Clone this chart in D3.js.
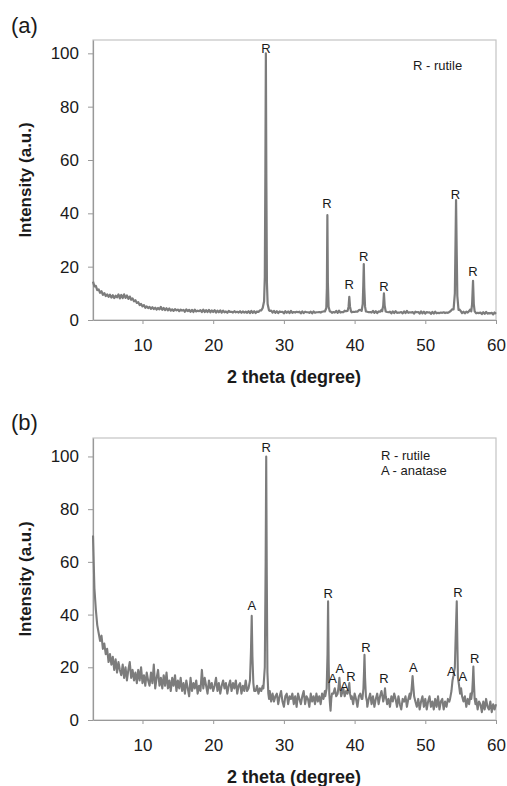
<!DOCTYPE html>
<html>
<head>
<meta charset="utf-8">
<script src="https://cdn.jsdelivr.net/npm/d3@7"></script>
<style>
body { margin: 0; background: #fff; }
text { font-family: "Liberation Sans", Arial, sans-serif; fill: #1a1a1a; }
</style>
</head>
<body>
<svg id="chart" width="507" height="786"></svg>
<script>
// ---- data ----
var xTicks = [10, 20, 30, 40, 50, 60];
var yTicks = [0, 20, 40, 60, 80, 100];
var xTitle = '2 theta (degree)';
var yTitle = 'Intensity (a.u.)';

// background traces, sampled from 2theta = 3.0 every 0.2 degree
var scanStart = 3, scanStep = 0.2;

var bgA = [
  14.4, 12.6, 12.8, 11.2, 11.5, 10.2, 10.8, 9.4, 10.1, 9.0,
  9.6, 8.7, 9.5, 8.4, 9.3, 8.2, 9.1, 8.5, 9.6, 8.1,
  9.4, 8.2, 9.6, 8.3, 9.2, 7.9, 8.8, 7.6, 8.1, 7.0,
  7.4, 6.4, 6.7, 5.6, 6.0, 5.1, 5.6, 4.6, 5.1, 4.5,
  4.9, 4.2, 4.8, 4.1, 4.6, 3.9, 4.5, 4.0, 4.9, 3.8,
  4.5, 3.7, 4.4, 3.6, 4.3, 3.5, 4.0, 3.4, 4.1, 3.6,
  3.9, 3.3, 3.9, 3.5, 3.8, 3.1, 4.0, 3.3, 3.8, 3.1,
  3.8, 3.0, 3.9, 3.2, 3.5, 3.3, 3.7, 3.0, 3.9, 3.0,
  3.7, 3.0, 3.8, 2.9, 3.6, 3.0, 3.7, 2.8, 3.5, 2.9,
  3.6, 2.8, 3.5, 2.9, 3.2, 2.7, 3.4, 3.0, 3.1, 2.8,
  3.3, 2.9, 3.1, 2.8, 3.3, 2.7, 3.2, 2.8, 3.1, 2.7,
  3.3, 2.6, 3.4, 2.7, 3.3, 2.6, 3.2, 3.0, 3.6, 3.6,
  4.8, 6.0, 9.0, 6.5, 4.4, 3.4, 3.5, 2.8, 3.4, 2.7,
  3.3, 2.6, 3.2, 3.0, 3.1, 2.5, 3.3, 2.7, 3.2, 2.6,
  3.4, 2.7, 3.0, 2.8, 3.1, 2.9, 3.1, 2.5, 3.2, 2.6,
  3.1, 2.9, 2.9, 2.7, 3.1, 2.5, 3.2, 2.7, 2.9, 2.9,
  3.0, 2.8, 3.1, 3.2, 3.5, 4.0, 5.0, 3.6, 3.2, 2.7,
  3.0, 2.8, 3.4, 2.7, 3.5, 2.8, 3.0, 2.9, 3.5, 3.3,
  4.0, 4.5, 3.8, 2.9, 3.1, 3.0, 3.2, 3.1, 3.7, 3.8,
  5.0, 6.0, 4.0, 3.0, 3.1, 2.9, 3.0, 2.8, 3.4, 2.7,
  3.3, 2.6, 3.2, 3.1, 3.8, 4.2, 3.5, 2.8, 3.0, 2.9,
  3.1, 2.5, 3.2, 2.6, 3.3, 2.7, 2.8, 2.8, 3.0, 2.5,
  3.2, 2.6, 3.4, 2.7, 2.9, 2.8, 3.0, 2.4, 3.1, 2.9,
  3.0, 2.4, 3.2, 2.5, 3.1, 2.4, 3.0, 2.8, 2.9, 2.3,
  3.0, 2.4, 3.1, 2.5, 2.7, 2.6, 2.8, 2.7, 2.9, 2.6,
  2.8, 2.7, 3.0, 3.4, 4.0, 6.0, 12, 20, 8.0, 4.0,
  3.4, 2.6, 3.1, 2.5, 3.1, 2.8, 3.4, 4.0, 5.0, 4.0,
  3.2, 2.5, 2.7, 2.6, 2.8, 2.2, 2.9, 2.3, 3.0, 2.4,
  2.6, 2.5, 2.7, 2.1, 2.8, 2.3
];

var bgB = [
  70, 50, 42, 36, 33, 30, 32, 27, 29, 25,
  27, 22, 25, 21, 24, 19, 23, 18, 22, 19,
  17, 21, 16, 20, 15, 19, 22, 16, 19, 15,
  18, 14, 19, 15, 20, 14, 17, 13, 18, 15,
  13, 18, 14, 21, 12, 16, 19, 13, 16, 12,
  17, 13, 18, 12, 15, 11, 16, 13, 17, 11,
  15, 12, 16, 11, 14, 10, 15, 12, 9, 16,
  11, 14, 12, 15, 10, 13, 11, 19, 12, 16,
  13, 10, 15, 12, 14, 11, 13, 16, 11, 14,
  10, 13, 15, 12, 14, 10, 13, 15, 11, 14,
  12, 15, 10, 13, 14, 10, 13, 11, 15, 11,
  13, 12, 14, 22, 13, 11, 13, 10, 12, 11,
  13, 12, 16, 20, 9, 11, 7, 10, 7, 9,
  10, 6, 9, 11, 7, 5, 9, 10, 6, 9,
  8, 10, 6, 9, 5, 10, 8, 6, 9, 11,
  6, 9, 8, 5, 10, 7, 9, 6, 10, 7,
  9, 6, 10, 8, 11, 12, 20, 4, 9, 8,
  10, 12, 9, 13, 11, 14, 10, 12, 9, 11,
  13, 10, 8, 9, 6, 10, 8, 5, 9, 10,
  8, 12, 7, 9, 5, 8, 10, 6, 9, 5,
  8, 10, 6, 9, 11, 8, 5, 9, 6, 8,
  5, 9, 7, 10, 8, 5, 9, 6, 4, 8,
  7, 9, 5, 8, 10, 12, 9, 6, 8, 5,
  8, 4, 7, 9, 5, 8, 4, 7, 9, 5,
  7, 4, 8, 5, 9, 4, 7, 8, 4, 7,
  5, 8, 7, 9, 10, 13, 15, 20, 9, 12,
  10, 8, 6, 9, 5, 8, 6, 10, 9, 6,
  5, 8, 4, 7, 6, 3, 7, 4, 8, 5,
  4, 7, 3, 6, 4, 6
];

// diffraction peaks as [2theta, intensity] points (replace the background over their span)
var peaksA = [
  [[27.0, 4.5], [27.2, 7], [27.3, 16], [27.38, 55], [27.45, 100], [27.52, 52], [27.6, 14], [27.7, 6], [27.9, 3.6]],
  [[35.8, 3.2], [36.0, 4.5], [36.08, 12], [36.15, 39.3], [36.22, 14], [36.32, 5], [36.5, 3.2]],
  [[39.0, 3.4], [39.15, 5], [39.25, 8.7], [39.35, 5], [39.5, 3.2]],
  [[41.0, 3.4], [41.15, 6], [41.23, 13], [41.3, 21], [41.37, 12], [41.48, 5], [41.6, 3.2]],
  [[43.9, 3.3], [44.05, 5.5], [44.15, 10], [44.25, 5.5], [44.4, 3.2]],
  [[54.0, 4], [54.18, 10], [54.28, 30], [54.35, 45], [54.43, 28], [54.53, 9], [54.7, 3.8]],
  [[56.5, 3.2], [56.62, 6], [56.75, 14.7], [56.86, 6], [56.98, 3.2]]
];

var peaksB = [
  [[25.0, 12], [25.2, 15], [25.34, 26], [25.45, 39.5], [25.55, 24], [25.68, 14], [25.8, 11]],
  [[27.1, 12], [27.3, 20], [27.42, 60], [27.5, 100], [27.58, 55], [27.67, 18], [27.8, 10], [27.9, 8]],
  [[35.85, 9], [36.05, 12], [36.17, 25], [36.25, 45], [36.33, 22], [36.42, 10], [36.52, 6], [36.6, 3.5], [36.7, 8], [36.8, 10]],
  [[37.6, 10], [37.75, 13], [37.85, 16], [37.95, 12], [38.1, 9]],
  [[39.0, 10], [39.15, 12], [39.25, 14], [39.35, 10], [39.5, 8]],
  [[41.1, 8], [41.25, 12], [41.33, 18], [41.4, 24.7], [41.48, 16], [41.6, 9], [41.75, 7]],
  [[44.05, 7], [44.2, 9], [44.3, 12], [44.4, 9], [44.55, 7]],
  [[47.85, 8], [48.0, 10], [48.1, 13], [48.2, 16.7], [48.3, 13], [48.42, 9], [48.6, 7]],
  [[53.5, 8], [53.7, 11], [53.85, 15], [54.0, 17], [54.18, 20], [54.3, 32], [54.45, 45], [54.53, 30], [54.62, 16], [54.78, 13], [54.92, 10], [55.06, 12], [55.2, 9], [55.4, 7]],
  [[56.5, 8], [56.64, 11], [56.72, 15], [56.8, 20.3], [56.88, 14], [56.98, 8], [57.1, 6]]
];

// peak letters: [2theta, intensity at the letter's centre, text]
var labelsA = [
  [27.45, 102, 'R'], [36.1, 43.8, 'R'], [39.25, 13.5, 'R'], [41.3, 23.7, 'R'],
  [44.15, 12.7, 'R'], [54.25, 47.2, 'R'], [56.75, 18.1, 'R']
];
var labelsB = [
  [25.45, 43.7, 'A'], [27.5, 103.3, 'R'], [36.25, 48.2, 'R'], [36.9, 16, 'A'],
  [37.9, 19.6, 'A'], [38.55, 12.9, 'A'], [39.5, 16.5, 'R'], [41.6, 27.5, 'R'],
  [44.15, 16, 'R'], [48.3, 19.9, 'A'], [53.7, 18.4, 'A'], [54.6, 48.4, 'R'],
  [55.3, 16.7, 'A'], [57.0, 23.4, 'R']
];
var legendA = ['R - rutile'];
var legendB = ['R - rutile', 'A - anatase'];

// ---- drawing ----
var svg = d3.select('#chart');

function trace(bg, peaks) {
  var pts = bg.map(function(v, i) { return [+(scanStart + i * scanStep).toFixed(2), v]; });
  peaks.forEach(function(p) {
    var lo = p[0][0], hi = p[p.length - 1][0];
    pts = pts.filter(function(d) { return d[0] < lo || d[0] > hi; }).concat(p);
  });
  return pts.sort(function(a, b) { return a[0] - b[0]; });
}

function panel(o) {
  var x = d3.scaleLinear().domain([3, 60]).range([93, 496]);
  var y = d3.scaleLinear().domain([0, o.yMax]).range([o.bottom, o.top]);
  var g = svg.append('g');

  // plot frame
  g.append('rect').attr('x', 93).attr('y', o.top)
    .attr('width', 403).attr('height', o.bottom - o.top)
    .attr('fill', 'none').attr('stroke', '#c4c4c4').attr('stroke-width', 1.2);

  var ya = g.append('g').attr('transform', 'translate(93,0)')
    .call(d3.axisLeft(y).tickValues(yTicks).tickSize(5).tickSizeOuter(0).tickPadding(9));
  var xa = g.append('g').attr('transform', 'translate(0,' + o.bottom + ')')
    .call(d3.axisBottom(x).tickValues(xTicks).tickSize(4).tickSizeOuter(0).tickPadding(15));
  [ya, xa].forEach(function(a) {
    a.select('.domain').attr('stroke', '#999').attr('stroke-width', 1.2);
    a.selectAll('.tick line').attr('stroke', '#999');
    a.selectAll('.tick text').attr('font-size', 17).attr('fill', '#1a1a1a')
      .style('font-family', '"Liberation Sans", Arial, sans-serif');
  });

  g.append('path').datum(trace(o.bg, o.peaks))
    .attr('fill', 'none').attr('stroke', '#7c7c7c').attr('stroke-width', o.lw)
    .attr('stroke-linejoin', 'round')
    .attr('d', d3.line().x(function(d) { return x(d[0]); }).y(function(d) { return y(d[1]); }));

  g.selectAll('.peak').data(o.labels).enter().append('text')
    .attr('x', function(d) { return x(d[0]); })
    .attr('y', function(d) { return y(d[1]); })
    .attr('dy', '0.36em').attr('text-anchor', 'middle')
    .attr('font-size', 13).attr('fill', '#333')
    .text(function(d) { return d[2]; });

  g.selectAll('.legend').data(o.legend).enter().append('text')
    .attr('x', o.legendX).attr('y', function(d, i) { return o.legendY + i * 15; })
    .attr('font-size', 13).attr('fill', '#333')
    .text(function(d) { return d; });

  g.append('text').attr('x', 11).attr('y', o.tagY)
    .attr('font-size', 22).text(o.tag);

  g.append('text').attr('x', 294).attr('y', o.bottom + 63)
    .attr('text-anchor', 'middle').attr('font-size', 18).attr('font-weight', 'bold')
    .text(xTitle);

  g.append('text')
    .attr('transform', 'translate(31,' + ((o.top + o.bottom) / 2) + ') rotate(-90)')
    .attr('text-anchor', 'middle').attr('font-size', 17).attr('font-weight', 'bold')
    .text(yTitle);
}

panel({ top: 40, bottom: 320, yMax: 105, bg: bgA, peaks: peaksA, labels: labelsA,
        legend: legendA, legendX: 413, legendY: 70, tag: '(a)', tagY: 33, lw: 2.2 });
panel({ top: 438, bottom: 720, yMax: 107, bg: bgB, peaks: peaksB, labels: labelsB,
        legend: legendB, legendX: 381, legendY: 460, tag: '(b)', tagY: 430, lw: 2.1 });
</script>
</body>
</html>
